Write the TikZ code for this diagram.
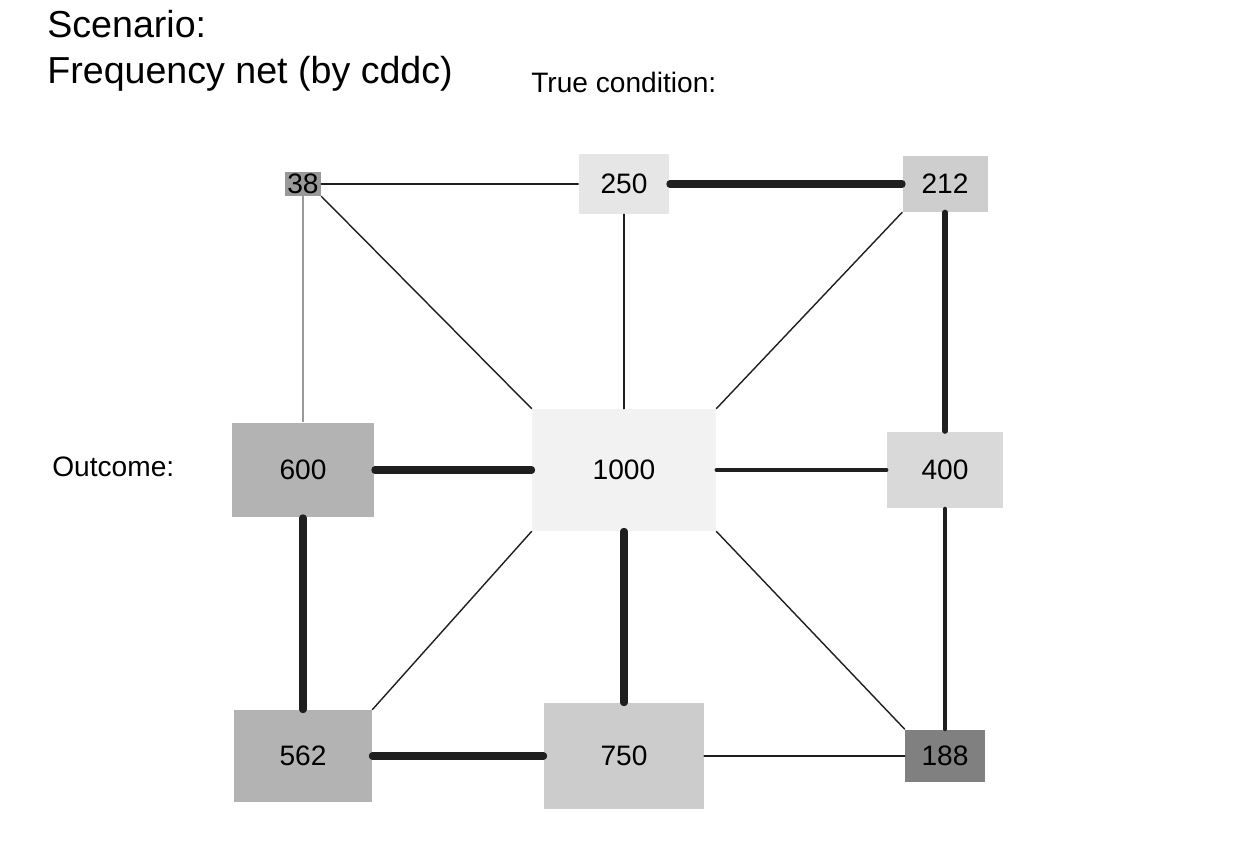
\documentclass[tikz,border=0pt]{standalone}
\usepackage{fontspec}
\setmainfont{Liberation Sans}
\usepackage{xcolor}

\definecolor{edgecol}{HTML}{1F1F1F}
\definecolor{thincol}{HTML}{999999}

\tikzset{
  box/.style = {inner sep=0pt, font=\fontsize{16}{18}\selectfont},
  lab/.style = {anchor=base west, inner sep=0pt, font=\fontsize{16}{18}\selectfont},
  link/.style = {draw=edgecol, line cap=round}
}

\begin{document}
\begin{tikzpicture}[x=0.02cm, y=-0.02cm]
\useasboundingbox (0,0) rectangle (1248,864);

\node[lab, font=\fontsize{21.4}{24}\selectfont] (scen) at (47,38) {Scenario:};
\node[lab, font=\fontsize{21.4}{24}\selectfont] (title) at (47,84) {Frequency net (by cddc)};
\node[lab] (cond) at (531,93) {True condition:};
\node[lab] (outc) at (52,477) {Outcome:};

\node[box, fill={rgb,255:red,153;green,153;blue,153}, minimum width=0.72cm, minimum height=0.48cm] (n38) at (303,184) {38};
\node[box, fill={rgb,255:red,230;green,230;blue,230}, minimum width=1.82cm, minimum height=1.2cm] (n250) at (624,184) {250};
\node[box, fill={rgb,255:red,206;green,206;blue,206}, minimum width=1.7cm, minimum height=1.12cm] (n212) at (945,184) {212};
\node[box, fill={rgb,255:red,179;green,179;blue,179}, minimum width=2.86cm, minimum height=1.9cm] (n600) at (303,470) {600};
\node[box, fill={rgb,255:red,242;green,242;blue,242}, minimum width=3.68cm, minimum height=2.44cm] (n1000) at (624,470) {1000};
\node[box, fill={rgb,255:red,217;green,217;blue,217}, minimum width=2.32cm, minimum height=1.54cm] (n400) at (945,470) {400};
\node[box, fill={rgb,255:red,179;green,179;blue,179}, minimum width=2.76cm, minimum height=1.84cm] (n562) at (303,756) {562};
\node[box, fill={rgb,255:red,204;green,204;blue,204}, minimum width=3.2cm, minimum height=2.12cm] (n750) at (624,756) {750};
\node[box, fill={rgb,255:red,128;green,128;blue,128}, minimum width=1.6cm, minimum height=1.06cm] (n188) at (945,756) {188};

% thin links
\draw[link, line width=0.8pt] (n38) -- (n250);
\draw[draw=thincol, line width=0.6pt] (n38) -- (n600);
\draw[link, line width=0.8pt] (n38.south east) -- (n1000.north west);
\draw[link, line width=0.9pt] (n250) -- (n1000);
\draw[link, line width=0.8pt] (n212.south west) -- (n1000.north east);
\draw[link, line width=0.8pt] (n562.north east) -- (n1000.south west);
\draw[link, line width=0.8pt] (n188.north west) -- (n1000.south east);
\draw[link, line width=1pt] (n750) -- (n188);

% thick links
\draw[link, line width=4pt] (n250) -- (n212);
\draw[link, line width=3pt] (n212) -- (n400);
\draw[link, line width=4pt] (n600) -- (n1000);
\draw[link, line width=2pt] (n1000) -- (n400);
\draw[link, line width=2.4pt] (n400) -- (n188);
\draw[link, line width=4pt] (n600) -- (n562);
\draw[link, line width=4pt] (n1000) -- (n750);
\draw[link, line width=4pt] (n562) -- (n750);

\end{tikzpicture}
\end{document}
